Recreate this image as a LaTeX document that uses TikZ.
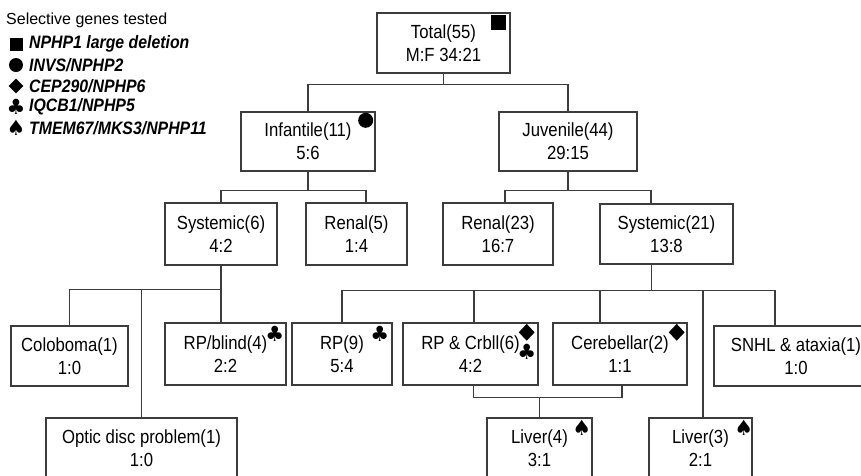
\documentclass[tikz,border=0pt]{standalone}
\usepackage{fontspec}
\setmainfont{Liberation Sans}[FakeStretch=0.88]
\newfontfamily\legendfont{Liberation Sans}
\newfontfamily\suitfont{DejaVu Sans}
\usetikzlibrary{calc, shapes.geometric}
\definecolor{linegray}{HTML}{3C3C3C}
\tikzset{
  x=1pt, y=-1pt, % one unit per pixel, y grows downwards
  box/.style={draw=linegray, line width=1.4pt, minimum height=60pt,
    inner sep=0pt, align=center, font=\fontsize{19}{23}\selectfont}, % framed groups
  link/.style={draw=linegray, line width=1.4pt}, % tree lines
  gene/.style={fill=black, inner sep=0pt}, % filled marks
  suit/.style={inner sep=0pt, font=\suitfont\fontsize{21}{21}\selectfont}, % card marks
  legtext/.style={anchor=west, inner sep=0pt,
    font=\bfseries\itshape\fontsize{18}{20}\selectfont},
}

\begin{document}
\begin{tikzpicture}
  \useasboundingbox (0,0) rectangle (861,475);
  \clip (0,0) rectangle (861,475);

  % legend
  \node[anchor=west, inner sep=0pt, font=\legendfont\fontsize{16}{18}\selectfont]
    (legtitle) at (6,20) {Selective genes tested};
  \node[gene, minimum size=13pt] (lsq) at (16,44) {};
  \node[legtext] (l1) at (29,44) {NPHP1 large deletion};
  \node[gene, circle, minimum size=14pt] (lci) at (16,65) {};
  \node[legtext] (l2) at (29,65) {INVS/NPHP2};
  \node[gene, diamond, minimum width=15pt, minimum height=15pt] (ldi) at (16,86) {};
  \node[legtext] (l3) at (29,86) {CEP290/NPHP6};
  \node[suit] (lcl) at (16,107) {♣};
  \node[legtext] (l4) at (29,107) {IQCB1/NPHP5};
  \node[suit] (lsp) at (16,128) {♠};
  \node[legtext] (l5) at (29,128) {TMEM67/MKS3/NPHP11};

  % groups
  \node[box, minimum width=133pt] (total) at (443.5,43) {Total(55)\\M:F 34:21};
  \node[box, minimum width=134pt, minimum height=59pt] (inf) at (308,141.5) {Infantile(11)\\5:6};
  \node[box, minimum width=138pt, minimum height=59pt] (juv) at (568,141.5) {Juvenile(44)\\29:15};
  \node[box, minimum width=112pt, minimum height=62pt] (sys6) at (221,234) {Systemic(6)\\4:2};
  \node[box, minimum width=101pt, minimum height=62pt] (ren5) at (356.5,234) {Renal(5)\\1:4};
  \node[box, minimum width=110pt, minimum height=62pt] (ren23) at (498,234) {Renal(23)\\16:7};
  \node[box, minimum width=133pt] (sys21) at (666.5,234) {Systemic(21)\\13:8};
  \node[box, minimum width=117pt] (colo) at (69.5,356) {Coloboma(1)\\1:0};
  \node[box, minimum width=121pt, minimum height=62pt] (rpb) at (225.5,354) {RP/blind(4)\\2:2};
  \node[box, minimum width=100pt, minimum height=62pt] (rp9) at (342,354) {RP(9)\\5:4};
  \node[box, minimum width=135pt, minimum height=62pt] (rpc) at (470.5,354) {RP \& Crbll(6)\\4:2};
  \node[box, minimum width=134pt, minimum height=62pt] (cereb) at (620,354) {Cerebellar(2)\\1:1};
  \node[box, minimum width=164pt] (snhl) at (796,356) {SNHL \& ataxia(1)\\1:0};
  \node[box, minimum width=191pt] (optic) at (141.5,448) {Optic disc problem(1)\\1:0};
  \node[box, minimum width=105pt] (liv4) at (539.5,448) {Liver(4)\\3:1};
  \node[box, minimum width=103pt] (liv3) at (700.5,448) {Liver(3)\\2:1};

  % gene marks on the groups
  \node[gene, minimum size=15pt] (mtotal) at ($(total.north east)+(-12,10)$) {};
  \node[gene, circle, minimum size=15pt] (minf) at ($(inf.north east)+(-10,9)$) {};
  \node[suit] (mrpb) at ($(rpb.north east)+(-12,12)$) {♣};
  \node[suit] (mrp9) at ($(rp9.north east)+(-13,12)$) {♣};
  \node[gene, diamond, minimum width=16pt, minimum height=17pt] (mrpc) at ($(rpc.north east)+(-12,10)$) {};
  \node[suit] (mrpc2) at ($(rpc.north east)+(-12,30)$) {♣};
  \node[gene, diamond, minimum width=16pt, minimum height=17pt] (mcereb) at ($(cereb.north east)+(-11,10)$) {};
  \node[suit] (mliv4) at ($(liv4.north east)+(-11,11)$) {♠};
  \node[suit] (mliv3) at ($(liv3.north east)+(-9,11)$) {♠};

  % tree
  \draw[link] (total.south) -- ++(0,11) coordinate (j1);
  \draw[link] (inf.north) |- (j1) -| (juv.north);

  \draw[link] (inf.south) -- ++(0,19) coordinate (j2);
  \draw[link] (sys6.north) |- (j2) -| ($(ren5.north)+(9.5,0)$);

  \draw[link] (juv.south) -- ++(0,19) coordinate (j3);
  \draw[link] ($(ren23.north)+(7,0)$) |- (j3) -| ($(sys21.north)+(-15.5,0)$);

  \draw[link] (sys6.south) -- ++(0,24) coordinate (j4);
  \draw[link] (colo.north) |- (j4);
  \draw[link] (optic.north) |- (j4);
  \draw[link] (rpb.north -| j4) -- (j4);

  \draw[link] ($(sys21.south)+(-15,0)$) -- ++(0,26) coordinate (j5);
  \draw[link] (rp9.north) |- (j5) -| ($(snhl.north)+(-21,0)$);
  \draw[link] ($(rpc.north)+(3.5,0)$) |- (j5);
  \draw[link] ($(cereb.north)+(-20,0)$) |- (j5);
  \draw[link] ($(liv3.north)+(2.5,0)$) |- (j5);

  \draw[link] ($(rpc.south)+(3,0)$) -- ++(0,12) coordinate (j6) -| ($(cereb.south)+(2,0)$);
  \draw[link] (liv4.north) -- (liv4.north |- j6);
\end{tikzpicture}
\end{document}
